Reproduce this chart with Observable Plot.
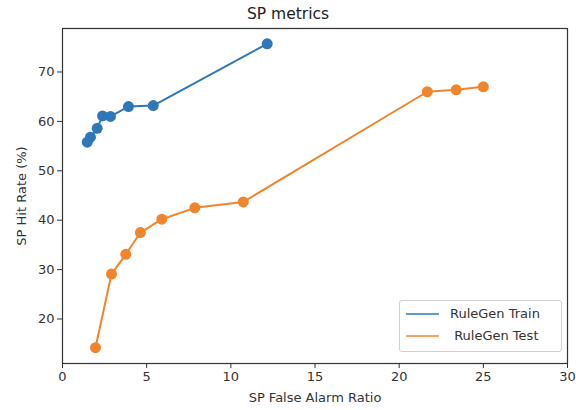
<!DOCTYPE html>
<html>
<head>
<meta charset="utf-8">
<script src="https://cdn.jsdelivr.net/npm/d3@7"></script>
<script src="https://cdn.jsdelivr.net/npm/@observablehq/plot@0.6"></script>
<style>
  body { margin: 0; background: white; }
  #wrap { position: relative; width: 576px; height: 410px; font-family: "DejaVu Sans", sans-serif; color: #333; }
  #title { height: 26px; line-height: 28px; text-align: center; font-size: 15.5px; color: #222; }
  #legend { position: absolute; left: 399px; top: 300px; width: 161px; height: 50px; border: 1px solid #d0d0d0; border-radius: 3px; background: rgba(255,255,255,0.85); font-size: 13px; color: #333; }
  .row { position: absolute; left: 0; height: 20px; line-height: 20px; }
  .sw { position: absolute; left: 6px; top: 9px; width: 33px; height: 2px; }
  .lab { position: absolute; white-space: pre; }
</style>
</head>
<body>
<div id="wrap">
  <div id="title">SP metrics</div>
  <div id="chart"></div>
  <div id="legend"></div>
</div>
<script>
// Data
const trainFAR = [1.47, 1.66, 2.06, 2.38, 2.85, 3.92, 5.39, 12.16];
const trainHit = [55.8, 56.8, 58.6, 61.1, 61.0, 63.0, 63.2, 75.7];
const testFAR  = [1.96, 2.91, 3.76, 4.63, 5.90, 7.86, 10.74, 21.67, 23.39, 25.0];
const testHit  = [14.2, 29.1, 33.1, 37.5, 40.2, 42.5, 43.7, 66.0, 66.4, 67.0];
const seriesNames = ["RuleGen Train", " RuleGen Test"];
const seriesColors = ["#2f78b8", "#f0852d"];
const xTicks = [0, 5, 10, 15, 20, 25, 30];
const yTicks = [20, 30, 40, 50, 60, 70];

const train = trainFAR.map((x, i) => ({x, y: trainHit[i]}));
const test = testFAR.map((x, i) => ({x, y: testHit[i]}));

const chart = Plot.plot({
  width: 576,
  height: 384,
  marginLeft: 62,
  marginRight: 9,
  marginTop: 2,
  marginBottom: 47,
  style: { fontFamily: "DejaVu Sans, sans-serif", fontSize: "13px", color: "#333", background: "white" },
  x: { domain: [0, 30] },
  y: { domain: [11, 78.8] },
  marks: [
    Plot.axisX({ ticks: xTicks, tickSize: 5, tickPadding: 3, fontSize: 13, label: "SP False Alarm Ratio", labelAnchor: "center", labelArrow: "none", labelOffset: 38 }),
    Plot.axisY({ ticks: yTicks, tickSize: 5, tickPadding: 3, fontSize: 13, label: "SP Hit Rate (%)", labelAnchor: "center", labelArrow: "none", labelOffset: 46 }),
    Plot.line(train, { x: "x", y: "y", stroke: seriesColors[0], strokeWidth: 2 }),
    Plot.dot(train, { x: "x", y: "y", r: 5.5, fill: seriesColors[0] }),
    Plot.line(test, { x: "x", y: "y", stroke: seriesColors[1], strokeWidth: 2 }),
    Plot.dot(test, { x: "x", y: "y", r: 5.5, fill: seriesColors[1] }),
    Plot.frame({ stroke: "#333", strokeWidth: 1.2 })
  ]
});
document.getElementById("chart").appendChild(chart);

const legend = document.getElementById("legend");
seriesNames.forEach((name, i) => {
  const row = document.createElement("div");
  row.className = "row";
  row.style.top = (3 + i * 22) + "px";
  row.style.width = "160px";
  const sw = document.createElement("div");
  sw.className = "sw";
  sw.style.background = seriesColors[i];
  sw.style.opacity = "0.75";
  const lab = document.createElement("div");
  lab.className = "lab";
  lab.style.left = "50px";
  lab.textContent = name;
  row.appendChild(sw);
  row.appendChild(lab);
  legend.appendChild(row);
});
</script>
</body>
</html>
